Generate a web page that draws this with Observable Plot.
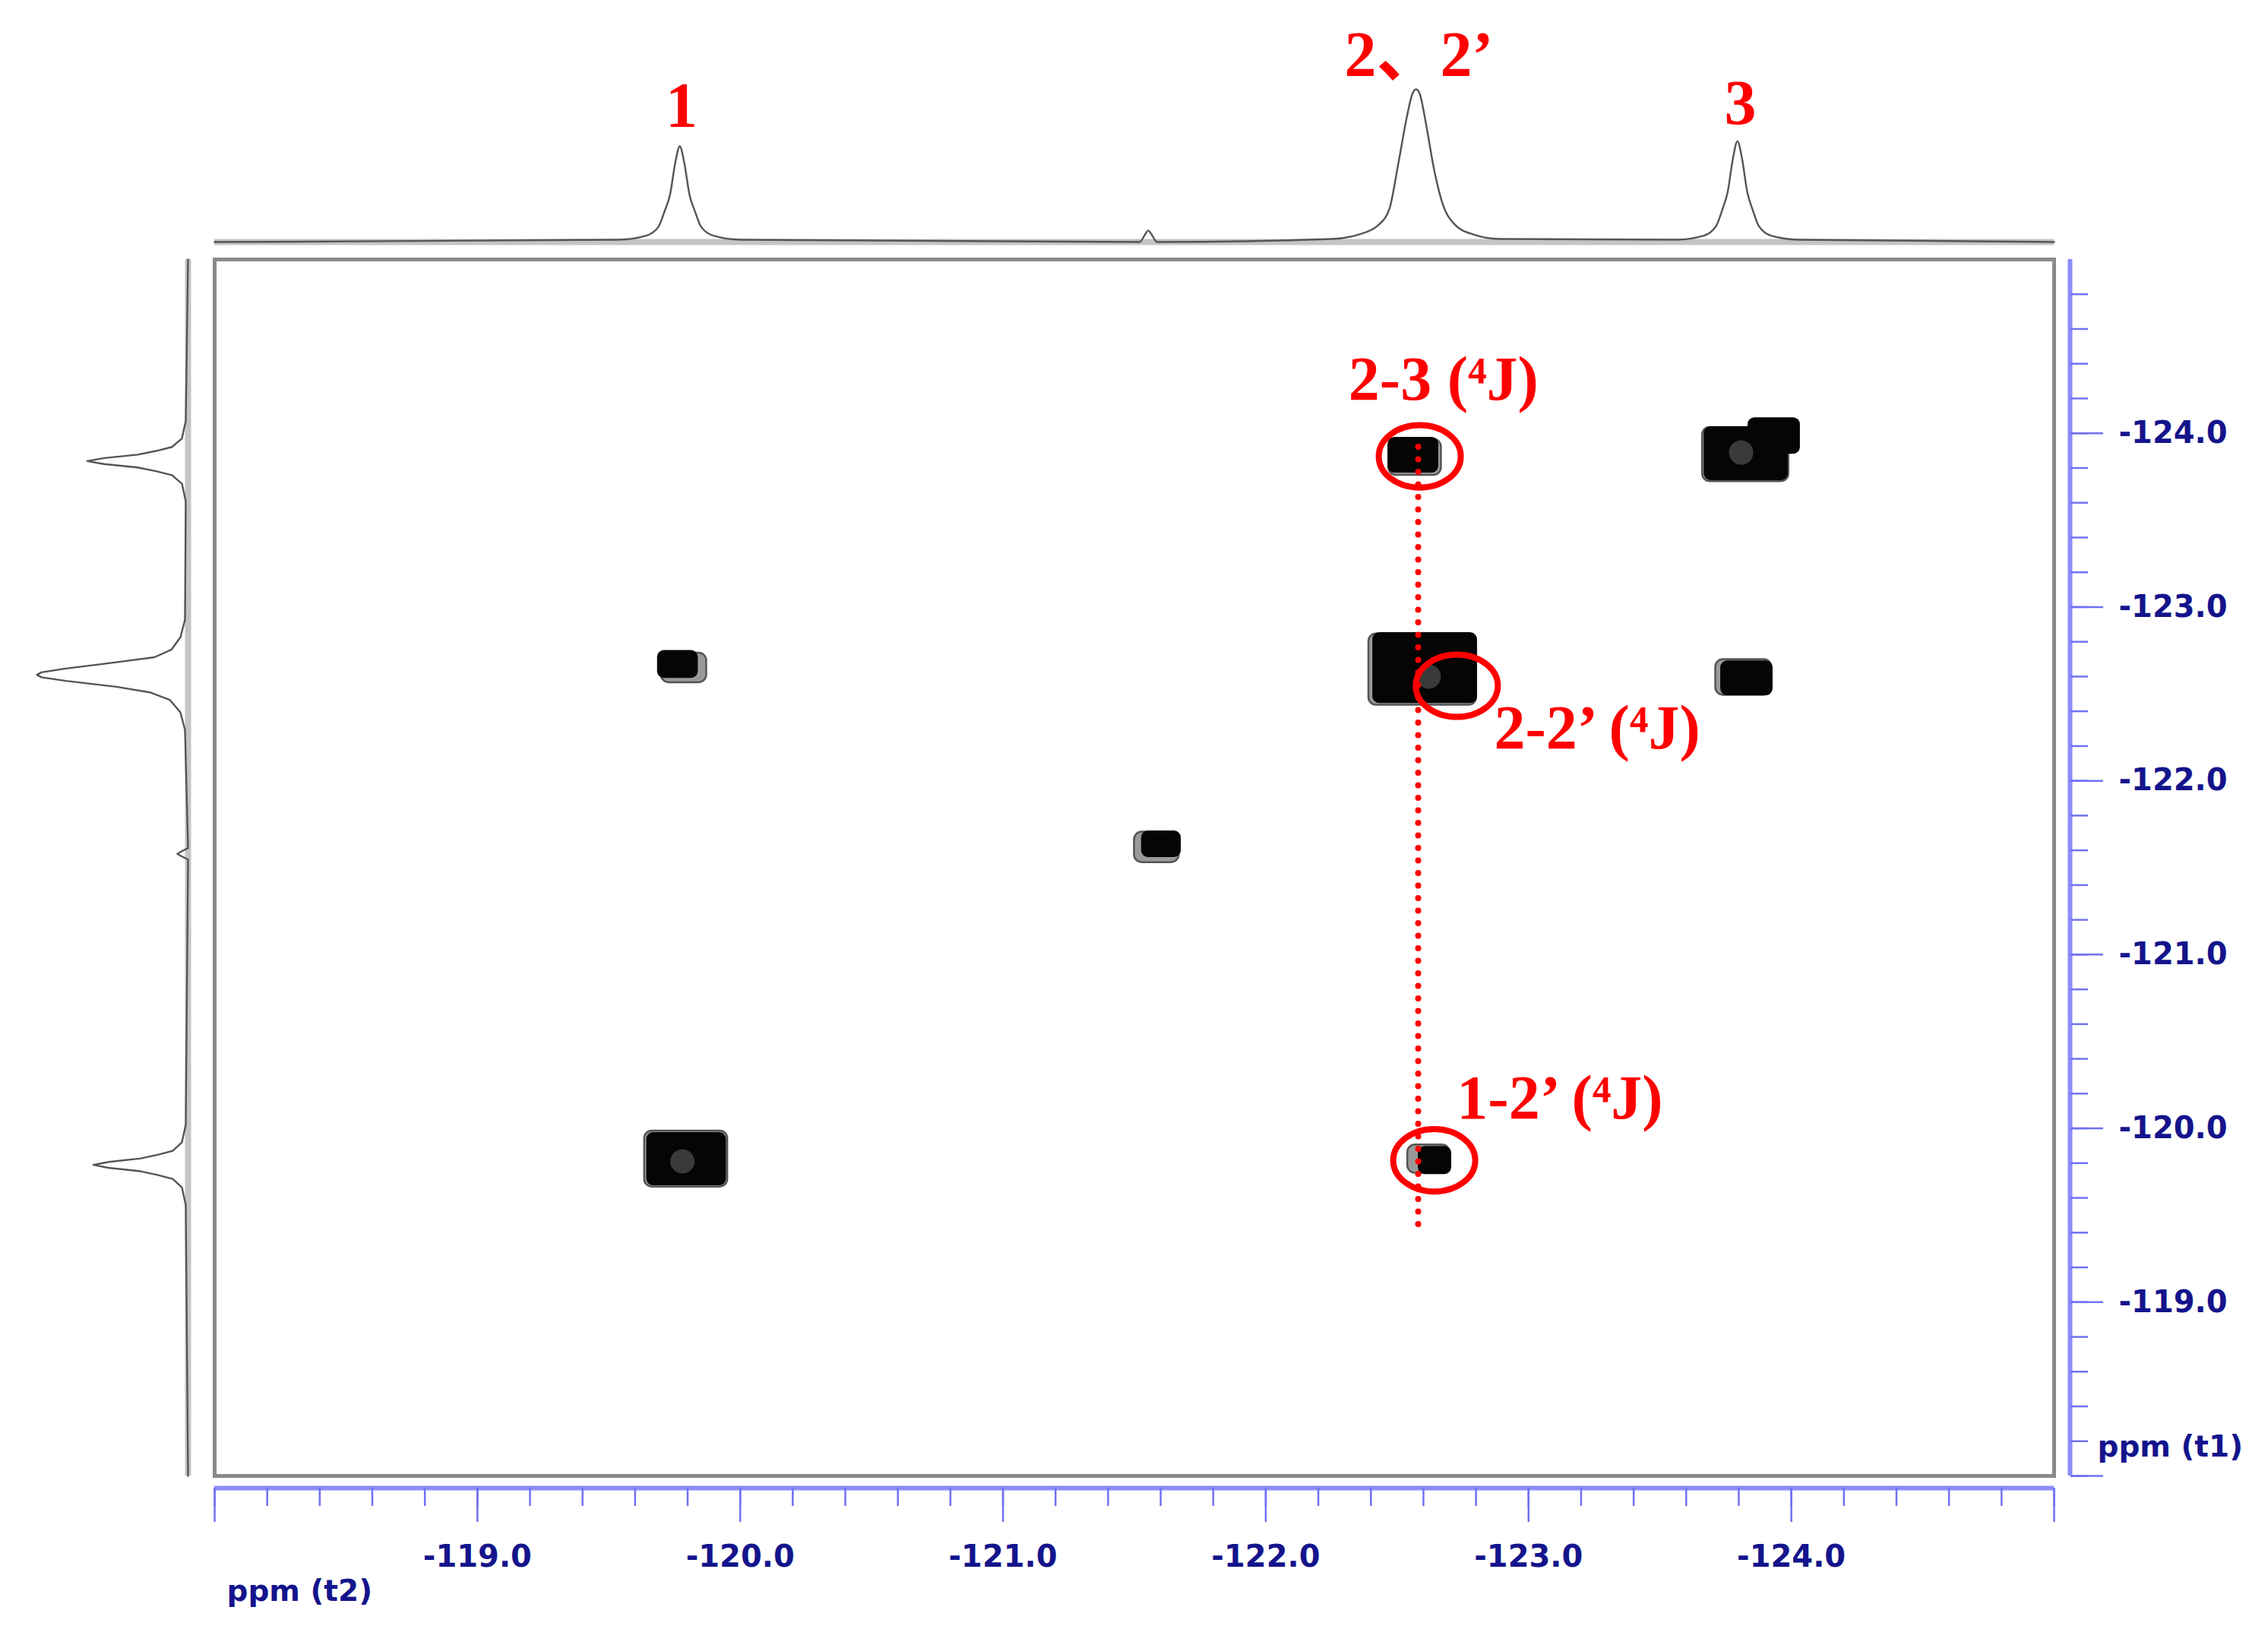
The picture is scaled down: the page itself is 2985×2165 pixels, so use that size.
<!DOCTYPE html>
<html><head><meta charset="utf-8">
<script src="https://cdn.jsdelivr.net/npm/d3@7"></script>
<script src="https://cdn.jsdelivr.net/npm/@observablehq/plot@0.6"></script>
<style>
html,body{margin:0;padding:0;background:#fff;}
#chart{position:relative;width:2985px;height:2165px;background:#fff;overflow:hidden;}
#chart svg{position:absolute;left:0;top:0;}
</style></head><body><div id="chart"></div>
<script>
// ---------- axes ----------
const xDomain = [-118, -125];           // ppm (t2)
const yDomain = [-118, -125];           // ppm (t1)
const xMajorTicks = [-118, -119, -120, -121, -122, -123, -124, -125];
const xTickLabels = ["", "-119.0", "-120.0", "-121.0", "-122.0", "-123.0", "-124.0", ""];
const yMajorTicks = [-118, -119, -120, -121, -122, -123, -124];
const yTickLabels = ["", "-119.0", "-120.0", "-121.0", "-122.0", "-123.0", "-124.0"];
const xAxisTitle = "ppm (t2)";
const yAxisTitle = "ppm (t1)";

// ---------- 1D projection on top (F2) ----------
const topPpm = [-118.000, -119.539, -119.640, -119.689, -119.712, -119.733, -119.753, -119.770, -119.787, -119.807, -119.828, -119.851, -119.900, -120.001,
  -121.520, -121.541, -121.553, -121.565, -121.586,
  -122.255, -122.356, -122.428, -122.471, -122.503, -122.537, -122.558, -122.572, -122.586, -122.607, -122.641, -122.673, -122.716, -122.788, -122.889,
  -123.564, -123.665, -123.714, -123.737, -123.758, -123.778, -123.795, -123.812, -123.832, -123.853, -123.876, -123.925, -124.026, -125.000];
const topInt = [0, 1.5, 4, 10, 20, 31, 52, 62.7, 52, 31, 20, 10, 4, 1.5,
  0, 5, 7.5, 5, 0,
  2, 5, 11, 22, 50, 82, 97, 100, 97, 80, 47, 25, 12, 5, 2,
  1.5, 4, 10.5, 21, 33, 55, 66, 55, 33, 21, 10.5, 4, 1.5, 0];
const topLabels = ["1", "2、2’", "3"];
const topLabelX = [-119.777, -122.583, -123.806];
const topLabelY = [75.6, 108.5, 77.1];

// ---------- 1D projection on the left (F1) ----------
const leftPpm = [-125.000, -124.071, -123.970, -123.921, -123.898, -123.877, -123.857, -123.840, -123.823, -123.803, -123.782, -123.759, -123.710, -123.609,
  -122.927, -122.826, -122.754, -122.711, -122.679, -122.645, -122.624, -122.610, -122.596, -122.575, -122.541, -122.509, -122.466, -122.394, -122.293,
  -121.613, -121.592, -121.580, -121.568, -121.547,
  -120.021, -119.920, -119.871, -119.848, -119.827, -119.807, -119.790, -119.773, -119.753, -119.732, -119.709, -119.660, -119.559, -118.000];
const leftInt = [0, 1.5, 4, 10.5, 21, 33, 55, 66, 55, 33, 21, 10.5, 4, 1.5,
  2, 5, 11, 22, 50, 81, 96, 99, 96, 80, 47, 25, 12, 5, 2,
  0, 4.7, 7, 4.7, 0,
  1.5, 4, 10, 20, 31, 52, 62, 52, 31, 20, 10, 4, 1.5, 0];

// ---------- 2D cross peaks (contour blocks) ----------
const coreX1 = [-119.685, -119.644, -121.527, -122.465, -122.407, -122.580, -123.668, -123.835, -123.731];
const coreX2 = [-119.840, -119.947, -121.678, -122.658, -122.805, -122.707, -123.988, -124.034, -123.930];
const coreY1 = [-122.750, -119.976, -121.712, -123.977, -122.853, -119.897, -124.038, -124.090, -122.690];
const coreY2 = [-122.590, -119.670, -121.559, -123.771, -122.446, -119.735, -123.728, -123.880, -122.490];
const rimX1 = [-119.700, -119.636, -121.500, -122.468, -122.392, -122.540, -123.662, -123.712];
const rimX2 = [-119.872, -119.952, -121.670, -122.668, -122.802, -122.700, -123.990, -123.925];
const rimY1 = [-122.735, -119.985, -121.705, -123.965, -122.846, -119.905, -124.034, -122.698];
const rimY2 = [-122.565, -119.663, -121.530, -123.758, -122.436, -119.742, -123.722, -122.493];
const glowX = [-119.780, -122.620, -123.809];
const glowY = [-119.810, -122.600, -123.889];

// ---------- annotations ----------
const annText = ["2-3 (⁴J)", "2-2’ (⁴J)", "1-2’ (⁴J)"];
const annX = [-122.315, -122.869, -122.727];
const annY = [-124.195, -122.188, -120.055];
const ellX = [-122.586, -122.727, -122.641];
const ellY = [-123.867, -122.547, -119.816];
const guideX = [-122.58];
const guideY1 = -123.92, guideY2 = -119.43;

// ---------- styles ----------
const navy = "#14148c", tickBlue = "#7171f2", lineBlue = "#8c8cfa", red = "#ff0000";
const axisFont = {fontFamily: "DejaVu Sans", fontWeight: "bold", fontSize: 40};
const redFont = {fontFamily: "Liberation Serif, DejaVu Serif, Noto Sans CJK SC", fontWeight: "bold"};
const svgStyle = "background: transparent; overflow: visible;";

const ellipseSymbol = {
  draw(context, size) {
    const r = Math.sqrt(size / Math.PI), rx = r, ry = r * 0.76, k = 0.5523;
    context.moveTo(rx, 0);
    context.bezierCurveTo(rx, ry * k, rx * k, ry, 0, ry);
    context.bezierCurveTo(-rx * k, ry, -rx, ry * k, -rx, 0);
    context.bezierCurveTo(-rx, -ry * k, -rx * k, -ry, 0, -ry);
    context.bezierCurveTo(rx * k, -ry, rx, -ry * k, rx, 0);
    context.closePath();
  }
};

const cores = coreX1.map((d, i) => ({x1: d, x2: coreX2[i], y1: coreY1[i], y2: coreY2[i]}));
const rims = rimX1.map((d, i) => ({x1: d, x2: rimX2[i], y1: rimY1[i], y2: rimY2[i]}));
const glows = glowX.map((d, i) => ({x: d, y: glowY[i]}));
const anns = annText.map((t, i) => ({t, x: annX[i], y: annY[i]}));
const ells = ellX.map((d, i) => ({x: d, y: ellY[i]}));
const xMinor = d3.range(0, 36).map(i => -118 - 0.2 * i);
const yMinor = d3.range(0, 35).map(i => -118 - 0.2 * i);
const fmtX = d => { const i = xMajorTicks.indexOf(d); return i < 0 ? "" : xTickLabels[i]; };
const fmtY = d => { const i = yMajorTicks.indexOf(d); return i < 0 ? "" : yTickLabels[i]; };

const main = Plot.plot({
  width: 2985, height: 2165,
  marginLeft: 282, marginRight: 282, marginTop: 341, marginBottom: 223,
  x: {domain: xDomain}, y: {domain: yDomain},
  style: svgStyle,
  marks: [
    Plot.frame({stroke: "#8a8a8a", strokeWidth: 5}),
    Plot.rect(rims, {x1: "x1", x2: "x2", y1: "y1", y2: "y2", fill: "#9a9a9a", stroke: "#555", strokeWidth: 2.5, rx: 10, ariaLabel: "rim"}),
    Plot.rect(cores, {x1: "x1", x2: "x2", y1: "y1", y2: "y2", fill: "#050505", rx: 9, ariaLabel: "core"}),
    Plot.dot(glows, {x: "x", y: "y", r: 16, fill: "#3a3a3a", ariaLabel: "glow"}),
    Plot.ruleX(guideX, {y1: guideY1, y2: guideY2, stroke: red, strokeWidth: 8, strokeDasharray: "0 16.5", strokeLinecap: "round"}),
    Plot.dot(ells, {x: "x", y: "y", r: 54, symbol: ellipseSymbol, stroke: red, strokeWidth: 8, fill: "none"}),
    Plot.text(anns, {x: "x", y: "y", text: "t", fill: red, fontSize: 82, textAnchor: "start", lineAnchor: "bottom", ...redFont}),
    // x axis (bottom)
    Plot.ruleY([-118], {x1: -118, x2: -125, dy: 16, stroke: lineBlue, strokeWidth: 6}),
    Plot.axisX({anchor: "bottom", ticks: xMinor, tickSize: 24, dy: 16, stroke: tickBlue, strokeWidth: 2.5, fill: "none", label: null}),
    Plot.axisX({anchor: "bottom", ticks: xMajorTicks, tickSize: 45, tickPadding: 30, dy: 16, stroke: tickBlue, strokeWidth: 2.5, fill: navy, tickFormat: fmtX, label: null, ...axisFont}),
    // y axis (right)
    Plot.ruleX([-125], {y1: -118, y2: -125, dx: 21, stroke: lineBlue, strokeWidth: 6}),
    Plot.axisY({anchor: "right", ticks: yMinor, tickSize: 23, dx: 21, stroke: tickBlue, strokeWidth: 2.5, fill: "none", label: null}),
    Plot.axisY({anchor: "right", ticks: yMajorTicks, tickSize: 43, tickPadding: 21, dx: 21, stroke: tickBlue, strokeWidth: 2.5, fill: navy, tickFormat: fmtY, label: null, ...axisFont}),
    Plot.text([xAxisTitle], {frameAnchor: "bottom-left", dx: 16, dy: 152, textAnchor: "start", lineAnchor: "middle", fill: navy, fontFamily: "DejaVu Sans", fontWeight: "bold", fontSize: 39}),
    Plot.text([yAxisTitle], {frameAnchor: "bottom-right", dx: 57, dy: -38, textAnchor: "start", lineAnchor: "middle", fill: navy, fontFamily: "DejaVu Sans", fontWeight: "bold", fontSize: 39})
  ]
});

const topData = topPpm.map((p, i) => ({p, v: topInt[i]}));
const topPlot = Plot.plot({
  width: 2985, height: 341,
  marginLeft: 282, marginRight: 282, marginTop: 0, marginBottom: 23,
  x: {domain: xDomain, axis: null}, y: {domain: [0, 158.2], axis: null},
  style: svgStyle,
  marks: [
    Plot.ruleY([0], {x1: -118, x2: -125, stroke: "#8a8a8a", strokeWidth: 8, strokeOpacity: 0.5}),
    Plot.line(topData, {x: "p", y: "v", stroke: "#555", strokeWidth: 2.4, curve: "monotone-x"}),
    Plot.text(topLabels, {x: (d, i) => topLabelX[i], y: (d, i) => topLabelY[i], text: d => d, fill: red, fontSize: 84, textAnchor: "middle", lineAnchor: "bottom", ...redFont})
  ]
});

const leftData = leftPpm.map((p, i) => ({p, v: leftInt[i]}));
const leftPlot = Plot.plot({
  width: 282, height: 2165,
  marginLeft: 0, marginRight: 35, marginTop: 341, marginBottom: 223,
  x: {domain: [122.9, 0], axis: null}, y: {domain: yDomain, axis: null},
  style: svgStyle,
  marks: [
    Plot.ruleX([0], {y1: -125, y2: -118, stroke: "#8a8a8a", strokeWidth: 8, strokeOpacity: 0.5}),
    Plot.line(leftData, {x: "v", y: "p", stroke: "#555", strokeWidth: 2.4})
  ]
});

// soft edges for the contour blocks
const ns = "http://www.w3.org/2000/svg";
const defs = document.createElementNS(ns, "defs");
defs.innerHTML = '<filter id="soft" x="-20%" y="-20%" width="140%" height="140%"><feGaussianBlur stdDeviation="2.2"/></filter>' +
  '<filter id="glow" x="-100%" y="-100%" width="300%" height="300%"><feGaussianBlur stdDeviation="9"/></filter>';
main.insertBefore(defs, main.firstChild);
main.querySelectorAll('g[aria-label="rim"], g[aria-label="core"]').forEach(g => g.setAttribute("filter", "url(#soft)"));
main.querySelectorAll('g[aria-label="glow"]').forEach(g => g.setAttribute("filter", "url(#glow)"));

const chart = document.getElementById("chart");
chart.appendChild(main);
chart.appendChild(topPlot);
chart.appendChild(leftPlot);
</script></body></html>
